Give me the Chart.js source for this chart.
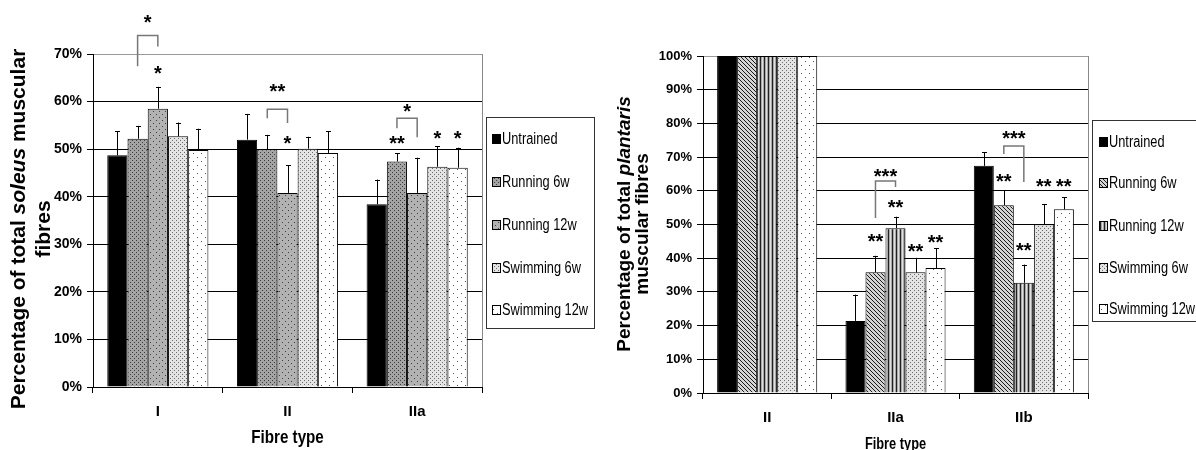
<!DOCTYPE html>
<html><head><meta charset="utf-8">
<script src="https://cdn.jsdelivr.net/npm/chart.js@4.4.1/dist/chart.umd.min.js"></script>
<style>
html,body{margin:0;padding:0;background:#fff;width:1196px;height:450px;overflow:hidden}
canvas{position:absolute;top:0}
#c1{left:0}
#c2{left:600px}
</style></head><body>
<canvas id="c1" width="600" height="450"></canvas>
<canvas id="c2" width="596" height="450"></canvas>
<script>
// ---------------- DATA ----------------
const seriesLabels = ['Untrained', 'Running 6w', 'Running 12w', 'Swimming 6w', 'Swimming 12w'];

// Soleus (left panel)
const soleusCategories = ['I', 'II', 'IIa'];
const soleusTickLabels = ['0%', '10%', '20%', '30%', '40%', '50%', '60%', '70%'];
const soleusUntrained = [48.7, 52.0, 38.4];
const soleusRun6 = [52.2, 50.0, 47.4];
const soleusRun12 = [58.5, 40.8, 40.8];
const soleusSwim6 = [52.7, 50.1, 46.3];
const soleusSwim12 = [49.8, 49.2, 46.1];
const soleusUntrainedSD = [5.1, 5.4, 5.2];
const soleusRun6SD = [2.7, 3.0, 1.7];
const soleusRun12SD = [4.6, 5.8, 7.4];
const soleusSwim6SD = [2.9, 2.5, 4.3];
const soleusSwim12SD = [4.5, 4.6, 4.2];
// significance marks: [text, category, series, value]
const soleusStars = [['*', 0, 2, 66.8], ['*', 1, 2, 52.1], ['**', 2, 1, 52.1], ['*', 2, 3, 53.2], ['*', 2, 4, 53.2]];
// brackets: [text, category, fromSeries, toSeries, topValue, leftEnd, rightEnd, textValue]
const soleusBrackets = [['*', 0, 1, 2, 73.9, 67.4, 71.6, 77.5], ['**', 1, 1, 2, 58.4, 56.5, 55.5, 63.0], ['*', 2, 1, 2, 56.5, 54.4, 52.5, 58.8]];

// Plantaris (right panel)
const plantarisCategories = ['II', 'IIa', 'IIb'];
const plantarisTickLabels = ['0%', '10%', '20%', '30%', '40%', '50%', '60%', '70%', '80%', '90%', '100%'];
const plantarisUntrained = [100, 21.4, 67.4];
const plantarisRun6 = [100, 35.8, 55.7];
const plantarisRun12 = [100, 48.9, 32.7];
const plantarisSwim6 = [100, 35.8, 50.1];
const plantarisSwim12 = [100, 37.1, 54.5];
const plantarisUntrainedSD = [0, 7.8, 4.1];
const plantarisRun6SD = [0, 4.9, 4.5];
const plantarisRun12SD = [0, 3.4, 5.4];
const plantarisSwim6SD = [0, 4.3, 6.0];
const plantarisSwim12SD = [0, 5.8, 3.6];
const plantarisStars = [['**', 1, 1, 46.3], ['**', 1, 2, 56.4], ['**', 1, 3, 43.3], ['**', 1, 4, 46.0],
                        ['**', 2, 1, 64.1], ['**', 2, 2, 43.6], ['**', 2, 3, 62.6], ['**', 2, 4, 62.6]];
const plantarisBrackets = [['***', 1, 1, 2, 62.9, 51.9, 61.1, 65.6], ['***', 2, 1, 2, 73.3, 70.9, 62.6, 76.9]];

// ---------------- STYLE ----------------
const SANS = '"Liberation Sans", Arial, sans-serif';
const SQUEEZE = 0.8;

function pattern(ctx, w, h, bg, pixels) {
  const c = document.createElement('canvas'); c.width = w; c.height = h;
  const g = c.getContext('2d');
  g.fillStyle = bg; g.fillRect(0, 0, w, h);
  pixels.forEach(p => { g.fillStyle = p[2]; g.fillRect(p[0], p[1], 1, 1); });
  return ctx.createPattern(c, 'repeat');
}
function fillsSoleus(ctx) {
  return ['#000',
    pattern(ctx, 4, 4, '#a4a4a4', [[0, 0, '#3a3a3a'], [2, 2, '#3a3a3a']]),
    pattern(ctx, 6, 6, '#b2b2b2', [[0, 0, '#404040'], [3, 3, '#404040']]),
    pattern(ctx, 4, 4, '#e4e4e4', [[0, 0, '#6a6a6a'], [2, 2, '#6a6a6a']]),
    pattern(ctx, 8, 8, '#ffffff', [[1, 1, '#555'], [5, 5, '#555']])];
}
function fillsPlantaris(ctx) {
  return ['#000',
    pattern(ctx, 4, 4, '#d4d4d4', [[0, 0, '#1a1a1a'], [1, 1, '#1a1a1a'], [2, 2, '#1a1a1a'], [3, 3, '#1a1a1a']]),
    pattern(ctx, 4, 1, '#e0e0e0', [[0, 0, '#222'], [1, 0, '#a8a8a8'], [3, 0, '#a8a8a8']]),
    pattern(ctx, 4, 4, '#e4e4e4', [[0, 0, '#6a6a6a'], [2, 2, '#6a6a6a']]),
    pattern(ctx, 8, 8, '#ffffff', [[1, 1, '#555'], [5, 5, '#555']])];
}

// text drawn horizontally condensed (narrow look of the original)
function narrowText(ctx, text, x, y, font, align) {
  ctx.save();
  ctx.font = font; ctx.textBaseline = 'middle'; ctx.textAlign = align;
  ctx.translate(x, y); ctx.scale(SQUEEZE, 1);
  ctx.fillText(text, 0, 0);
  ctx.restore();
}

function makeExtras(cfg) {
  return {
    id: 'extras',
    afterDatasetsDraw(chart) {
      const ctx = chart.ctx, y = chart.scales.y;
      const bar = (ds, c) => chart.getDatasetMeta(ds).data[c];
      ctx.save();
      // error bars
      cfg.errors.forEach((arr, ds) => arr.forEach((sd, c) => {
        if (!sd) return;
        const b = bar(ds, c);
        const x = Math.round(b.x) + 0.5;
        const yt = y.getPixelForValue(chart.data.datasets[ds].data[c] + sd);
        ctx.strokeStyle = '#000'; ctx.lineWidth = 1;
        ctx.beginPath(); ctx.moveTo(x, b.y); ctx.lineTo(x, yt);
        ctx.moveTo(x - 2.5, Math.round(yt) + 0.5); ctx.lineTo(x + 2.5, Math.round(yt) + 0.5); ctx.stroke();
      }));
      // brackets
      ctx.strokeStyle = '#777'; ctx.lineWidth = 1.5;
      cfg.brackets.forEach(([t, c, a, b2, top, le, re, tv]) => {
        const xl = bar(a, c).x, xr = bar(b2, c).x;
        ctx.beginPath();
        ctx.moveTo(xl, y.getPixelForValue(le)); ctx.lineTo(xl, y.getPixelForValue(top));
        ctx.lineTo(xr, y.getPixelForValue(top)); ctx.lineTo(xr, y.getPixelForValue(re)); ctx.stroke();
        star(ctx, t, (xl + xr) / 2, y.getPixelForValue(tv));
      });
      cfg.stars.forEach(([t, c, ds, v]) => star(ctx, t, bar(ds, c).x, y.getPixelForValue(v)));
      ctx.restore();
    },
    afterDraw(chart) {
      const ctx = chart.ctx, a = chart.chartArea;
      ctx.save();
      // right plot border
      ctx.strokeStyle = '#888'; ctx.lineWidth = 1;
      ctx.beginPath(); ctx.moveTo(Math.round(a.right) + 0.5, a.top); ctx.lineTo(Math.round(a.right) + 0.5, a.bottom); ctx.stroke();
      // y title
      ctx.fillStyle = '#000';
      cfg.yTitle.lines.forEach((segs, li) => {
        ctx.save();
        ctx.translate(cfg.yTitle.x[li], cfg.yTitle.cy);
        ctx.rotate(-Math.PI / 2);
        const fonts = segs.map(s => (s[1] ? 'italic ' : '') + 'bold ' + cfg.yTitle.size + 'px ' + SANS);
        let total = 0; const ws = segs.map((s, i) => { ctx.font = fonts[i]; const w = ctx.measureText(s[0]).width; total += w; return w; });
        let x = -total / 2; ctx.textBaseline = 'middle'; ctx.textAlign = 'left';
        segs.forEach((s, i) => { ctx.font = fonts[i]; ctx.fillText(s[0], x, 0); x += ws[i]; });
        ctx.restore();
      });
      // x title
      ctx.fillStyle = '#000';
      narrowText(ctx, 'Fibre type', (a.left + a.right) / 2, cfg.xTitle.y, 'bold ' + cfg.xTitle.size + 'px ' + SANS, 'center');
      // legend
      const L = cfg.legend;
      ctx.strokeStyle = '#333'; ctx.lineWidth = 1;
      ctx.fillStyle = '#fff';
      ctx.fillRect(L.x, L.y, L.w, L.h);
      ctx.strokeRect(L.x + 0.5, L.y + 0.5, L.w, L.h);
      chart.data.datasets.forEach((d, i) => {
        const yy = L.items[i];
        ctx.fillStyle = d.backgroundColor;
        ctx.fillRect(L.sx, yy - 5, 9, 10);
        ctx.strokeStyle = '#000'; ctx.strokeRect(L.sx + 0.5, yy - 4.5, 8, 9);
        ctx.fillStyle = '#000';
        narrowText(ctx, d.label, L.sx + 10, yy + 1, '16px ' + SANS, 'left');
      });
      ctx.restore();
    }
  };
}
function star(ctx, t, x, cy) {
  ctx.save();
  ctx.font = 'bold 20px ' + SANS; ctx.fillStyle = '#000';
  ctx.textAlign = 'center'; ctx.textBaseline = 'alphabetic';
  ctx.fillText(t, x, cy + 11);
  ctx.restore();
}

function build(canvasId, o) {
  const cv = document.getElementById(canvasId);
  const ctx = cv.getContext('2d');
  const fills = o.fills(ctx);
  return new Chart(cv, {
    type: 'bar',
    data: {
      labels: o.categories,
      datasets: seriesLabels.map((l, i) => ({
        label: l, data: o.values[i], backgroundColor: fills[i], borderColor: '#000', borderWidth: 1,
        categoryPercentage: 0.78, barPercentage: 1
      }))
    },
    options: {
      responsive: false, animation: false, devicePixelRatio: 1,
      layout: { padding: { left: 0, right: o.padRight, bottom: 0, top: o.top } },
      plugins: { legend: { display: false }, tooltip: { enabled: false }, title: { display: false } },
      scales: {
        x: {
          grid: { display: true, drawOnChartArea: false, offset: true, tickLength: 6, color: '#000', lineWidth: 1 },
          border: { color: '#000', width: 1 },
          ticks: { color: '#000', font: { family: SANS, size: 15, weight: 'bold' }, padding: o.xPad },
          afterFit(s) { s.height = o.xHeight; }
        },
        y: {
          min: 0, max: o.max,
          ticks: { stepSize: 10, color: '#000', font: { family: SANS, size: o.yFont, weight: 'bold' }, padding: 5,
                   callback: (v, i) => o.tickLabels[i] },
          grid: { color: c => (c.tick && c.tick.value === o.max) ? '#999' : '#000', tickColor: '#000', tickLength: 6, lineWidth: 1 },
          border: { color: '#000', width: 1 },
          afterFit(s) { s.width = o.yWidth; }
        }
      }
    },
    plugins: [makeExtras(o.extras)]
  });
}

build('c1', {
  categories: soleusCategories, tickLabels: soleusTickLabels, max: 70,
  values: [soleusUntrained, soleusRun6, soleusRun12, soleusSwim6, soleusSwim12],
  fills: fillsSoleus, yFont: 14, top: 54, padRight: 118, yWidth: 93, xHeight: 63, xPad: 10,
  extras: {
    errors: [soleusUntrainedSD, soleusRun6SD, soleusRun12SD, soleusSwim6SD, soleusSwim12SD],
    stars: soleusStars, brackets: soleusBrackets,
    yTitle: { size: 21, x: [19, 44], cy: 229,
      lines: [[['Percentage of total ', false], ['soleus', true], [' muscular', false]], [['fibres', false]]] },
    xTitle: { size: 19, y: 438 },
    legend: { x: 486, y: 117, w: 108, h: 211, sx: 492, items: [139, 182, 225, 268, 310] }
  }
});
build('c2', {
  categories: plantarisCategories, tickLabels: plantarisTickLabels, max: 100,
  values: [plantarisUntrained, plantarisRun6, plantarisRun12, plantarisSwim6, plantarisSwim12],
  fills: fillsPlantaris, yFont: 13, top: 56, padRight: 108, yWidth: 103, xHeight: 57, xPad: 10,
  extras: {
    errors: [plantarisUntrainedSD, plantarisRun6SD, plantarisRun12SD, plantarisSwim6SD, plantarisSwim12SD],
    stars: plantarisStars, brackets: plantarisBrackets,
    yTitle: { size: 19, x: [25, 43], cy: 224,
      lines: [[['Percentage of total ', false], ['plantaris', true]], [['muscular fibres', false]]] },
    xTitle: { size: 16, y: 445 },
    legend: { x: 492, y: 120, w: 130, h: 201, sx: 499, items: [142, 183, 226, 268, 309] }
  }
});
</script>
</body></html>
